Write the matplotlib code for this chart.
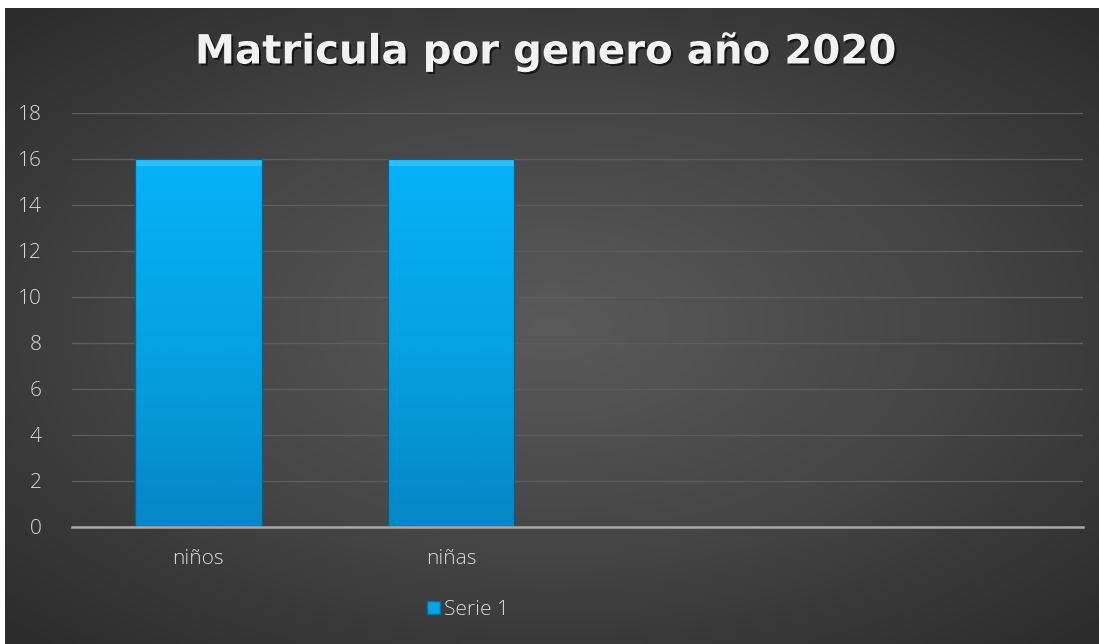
import matplotlib.pyplot as plt
import numpy as np
from matplotlib.colors import LinearSegmentedColormap
from matplotlib.patches import Rectangle
import matplotlib.patheffects as pe

# data
categories = ["niños", "niñas", "", ""]
values = [16, 16, 0, 0]
series_name = "Serie 1"
title = "Matricula por genero año 2020"
yticks = list(range(0, 20, 2))

W, H = 1099, 644
fig = plt.figure(figsize=(W / 100, H / 100), dpi=100, facecolor="white")

# dark radial background of the chart area
bg = fig.add_axes([5 / W, 0, 1 - 5 / W, 1 - 8 / H])
bg.set_axis_off()
yy, xx = np.mgrid[-1:1:300j, -1:1:500j]
r = np.sqrt((xx * 0.95) ** 2 + (yy * 1.0) ** 2)
bg_cmap = LinearSegmentedColormap.from_list("bg", ["#5a5a5a", "#464646", "#2c2c2c"])
bg.imshow(r, cmap=bg_cmap, vmin=0, vmax=1.35, aspect="auto", extent=[0, 1, 0, 1])
bg.set_xlim(0, 1)
bg.set_ylim(0, 1)

ax = fig.add_axes([72 / W, 1 - 527 / H, (1083 - 72) / W, (527 - 113) / H])
ax.patch.set_alpha(0)

x = np.arange(len(categories))
bars = ax.bar(x, values, width=0.5, color="#05a6e8", edgecolor="#0a6e9e",
              linewidth=0.8, zorder=3, label=series_name)

# vertical gradient on each bar
grad = np.linspace(0, 1, 256).reshape(-1, 1)
bar_cmap = LinearSegmentedColormap.from_list("bar", ["#0586c6", "#05a2e2", "#06b2f8"])
for b in bars:
    if b.get_height() <= 0:
        continue
    x0, w, h = b.get_x(), b.get_width(), b.get_height()
    im = ax.imshow(grad, cmap=bar_cmap, aspect="auto", origin="lower",
                   extent=[x0, x0 + w, 0, h], zorder=3.5)
    im.set_clip_path(b)
    # bevel highlight at top
    ax.add_patch(Rectangle((x0, h - 0.3), w, 0.3, facecolor="#4fd0ff",
                           edgecolor="none", alpha=0.55, zorder=4))
    ax.add_patch(Rectangle((x0, 0), w, h, facecolor="none",
                           edgecolor="#0a5f8a", linewidth=0.9, zorder=4))

ax.set_xlim(-0.5, len(categories) - 0.5)
ax.set_ylim(0, 18)
ax.set_yticks(yticks)
ax.set_xticks(x[:2])
ax.set_xticklabels(categories[:2])
ax.grid(axis="y", color="#5c5c5c", linewidth=1, zorder=0)
ax.set_axisbelow(True)
for side in ["top", "right", "left"]:
    ax.spines[side].set_visible(False)
ax.spines["bottom"].set_color("#a8a8a8")
ax.spines["bottom"].set_linewidth(1.8)
ax.spines["bottom"].set_zorder(5)
ax.tick_params(length=0, colors="#d9d9d9", labelsize=15)
ax.tick_params(axis="x", pad=16)
ax.tick_params(axis="y", pad=22)
for lab in ax.get_xticklabels() + ax.get_yticklabels():
    lab.set_fontfamily("Open Sans")
    lab.set_fontweight("light")

fig.text(0.496, 1 - 52 / H, title, ha="center", va="center", color="#f2f2f2",
         fontsize=29, fontweight="bold", fontfamily="DejaVu Sans",
         path_effects=[pe.withSimplePatchShadow(offset=(1.5, -1.5), shadow_rgbFace="black", alpha=0.6)])

leg = fig.legend(handles=[Rectangle((0, 0), 1, 1, facecolor="#05a6e8", edgecolor="#0a6e9e")],
                 labels=[series_name], loc="center", bbox_to_anchor=(468 / W, 1 - 610 / H),
                 frameon=False, handlelength=0.6, handleheight=0.6, handletextpad=0.2,
                 prop={"family": "Open Sans", "size": 15, "weight": "light"})
for t in leg.get_texts():
    t.set_color("#d9d9d9")

fig.savefig("out.png", dpi=100, facecolor="white")
